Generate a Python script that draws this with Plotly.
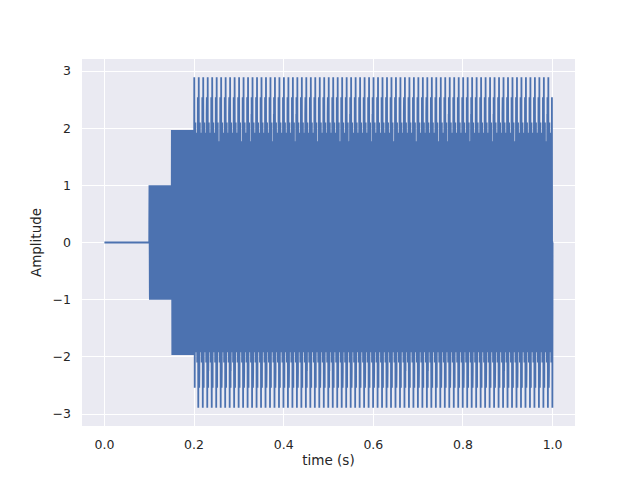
import numpy as np
import plotly.graph_objects as go

# Signal description (components switch on at these times)
fs = 10000                        # samples per second
onsets = [0.10, 0.15, 0.20]       # s
freqs = [500.0, 2500.0, 4600.0]   # Hz
amps = [1.0, 0.97, 0.97]
duration = 1.0

xticks = [0.0, 0.2, 0.4, 0.6, 0.8, 1.0]
xtick_text = ["0.0", "0.2", "0.4", "0.6", "0.8", "1.0"]
yticks = [-3, -2, -1, 0, 1, 2, 3]
ytick_text = ["\u22123", "\u22122", "\u22121", "0", "1", "2", "3"]

t = np.arange(0, duration + 1.0 / fs, 1.0 / fs)
y = np.zeros_like(t)
for t0, f, a in zip(onsets, freqs, amps):
    y += np.where(t >= t0, a * np.sin(2 * np.pi * f * t), 0.0)

fig = go.Figure()
fig.add_trace(go.Scatter(x=t, y=y, mode="lines",
                         line=dict(color="#4C72B0", width=1.8)))

font = "DejaVu Sans"
fig.update_layout(
    width=640, height=480,
    margin=dict(l=82, r=65, t=59, b=54),
    paper_bgcolor="white", plot_bgcolor="#EAEAF2",
    showlegend=False,
    font=dict(family=font, size=12.5, color="#262626"),
)
fig.update_xaxes(range=[-0.05, 1.05], tickvals=xticks, ticktext=xtick_text,
                 showgrid=True, gridcolor="white", gridwidth=1,
                 zeroline=False, showline=False, ticks="", ticklabelstandoff=9,
                 title=dict(text="time (s)", standoff=5, font=dict(size=13.5)))
fig.update_yaxes(range=[-3.21, 3.21], tickvals=yticks, ticktext=ytick_text,
                 showgrid=True, gridcolor="white", gridwidth=1,
                 zeroline=False, showline=False, ticks="", ticklabelstandoff=10,
                 title=dict(text="Amplitude", standoff=7, font=dict(size=13.5)))

fig.write_html("out.html")
